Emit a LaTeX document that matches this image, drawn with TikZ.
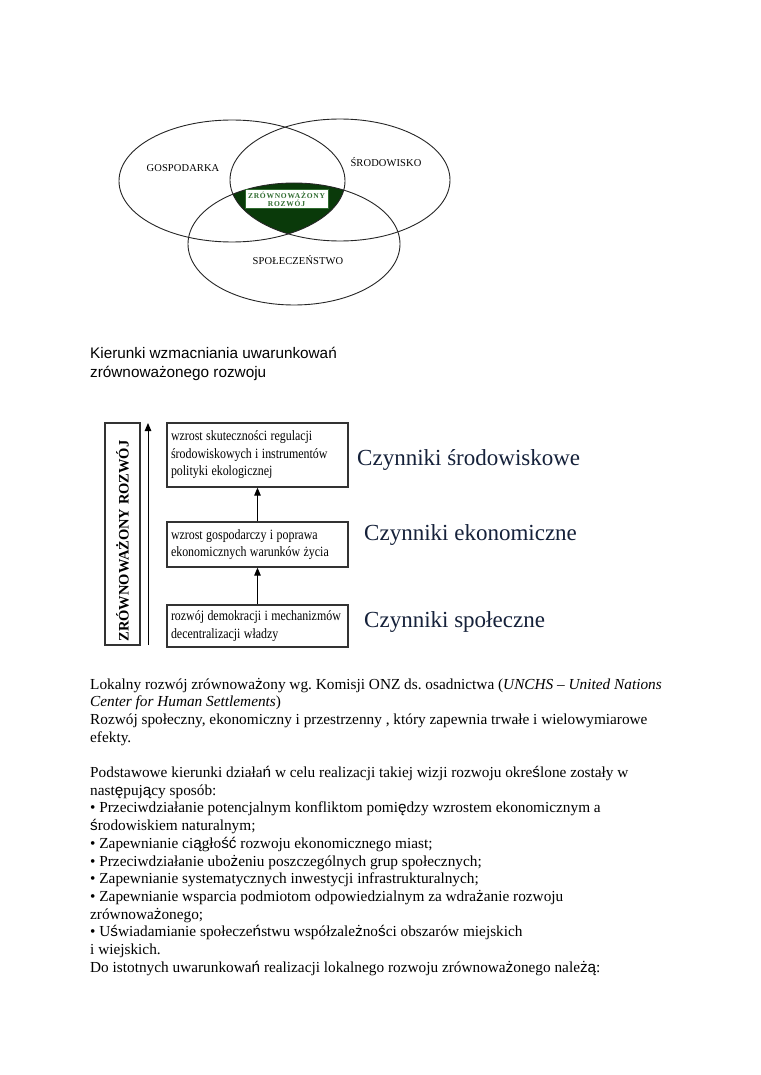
\documentclass[tikz,border=0pt]{standalone}
\usepackage{fontspec}
\setmainfont{Liberation Serif}
\newfontfamily\sansf{Liberation Sans}
\newfontfamily\boxf[FakeStretch=0.84]{Liberation Serif}
\newfontfamily\vennf[LetterSpace=1]{Liberation Serif}
\newfontfamily\zrf[LetterSpace=10]{Liberation Serif}
\protected\def\tightsp{\spaceskip=0.24em plus 0.1em\relax\xspaceskip=0.3em\relax}
\frenchspacing
\usetikzlibrary{arrows.meta}
\definecolor{dkgreen}{HTML}{0A3A0A}
\definecolor{lbgreen}{HTML}{2F6B2F}
\definecolor{navyc}{HTML}{15213A}
\newcommand\ps[1]{{\sansf #1}}
\begin{document}
\begin{tikzpicture}[x=1pt,y=-1pt,
  venn/.style={draw=black!85, line width=0.9pt},
  vlabel/.style={font=\vennf\fontsize{10.5}{11}\selectfont, inner sep=0pt},
  fbox/.style={draw=black!80, line width=1.3pt, minimum width=181pt, text width=173pt, inner xsep=4pt, inner ysep=0pt, align=left, font=\boxf\fontsize{14.2}{17.5}\selectfont, execute at begin node=\tightsp},
  arr/.style={line width=1pt, -{Triangle[length=8pt,width=6.5pt]}},
  czyn/.style={anchor=west, text=navyc, font=\fontsize{23}{23}\selectfont, inner sep=0pt},
  body/.style={anchor=base west, inner sep=0pt, font=\fontsize{15.3}{17.7}\selectfont\frenchspacing},
  ttl/.style={anchor=base west, inner sep=0pt, font=\sansf\fontsize{15.3}{18}\selectfont}]
\useasboundingbox (0,0) rectangle (760,1075);
\fill[white] (0,0) rectangle (760,1075);
% Venn diagram
\begin{scope}
  \clip (232,181) ellipse [x radius=113pt, y radius=61pt];
  \clip (340,180) ellipse [x radius=110pt, y radius=61pt];
  \fill[dkgreen] (294,244) ellipse [x radius=106pt, y radius=61pt];
\end{scope}
\draw[venn] (232,181) ellipse [x radius=113pt, y radius=61pt];
\draw[venn] (340,180) ellipse [x radius=110pt, y radius=61pt];
\draw[venn] (294,244) ellipse [x radius=106pt, y radius=61pt];
\node[vlabel] (gosp) at (183,168) {GOSPODARKA};
\node[vlabel] (srod) at (386,162) {ŚRODOWISKO};
\node[vlabel] (spol) at (298,260) {SPOŁECZEŃSTWO};
\node[draw=lbgreen, line width=1pt, fill=white, text=lbgreen, align=center, minimum width=83pt, minimum height=19pt, inner sep=0.5pt, font=\zrf\bfseries\fontsize{7.5}{8.5}\selectfont] (zr) at (286.5,199.5) {ZRÓWNOWAŻONY\\ROZWÓJ};
% title
\node[ttl] (t1) at (90,358) {Kierunki wzmacniania uwarunkowań};
\node[ttl] (t2) at (90,377) {zrównoważonego rozwoju};
% factors diagram
\node[draw=black!80, line width=1.3pt, minimum width=35pt, minimum height=222pt, inner sep=0pt] (vbox) at (122.5,534) {};
\node[rotate=90, inner sep=0pt, font=\bfseries\fontsize{14.5}{15}\selectfont] (vlab) at (122.5,541) {ZRÓWNOWAŻONY ROZWÓJ};
\coordinate (a0) at (148,645);
\coordinate (a1) at (148,423);
\draw[arr] (a0) -- (a1);
\node[fbox, minimum height=64pt] (box1) at (257.5,455) {wzrost skuteczności regulacji\\środowiskowych i instrumentów\\polityki ekologicznej};
\node[fbox, minimum height=45pt] (box2) at (257.5,544.5) {wzrost gospodarczy i poprawa\\ekonomicznych warunków życia};
\node[fbox, minimum height=42pt] (box3) at (257.5,626) {rozwój demokracji i mechanizmów\\decentralizacji władzy};
\draw[arr] (box2.north) -- (box1.south);
\draw[arr] (box3.north) -- (box2.south);
\node[czyn] (c1) at (357,460) {Czynniki środowiskowe};
\node[czyn] (c2) at (364,535) {Czynniki ekonomiczne};
\node[czyn] (c3) at (364,622) {Czynniki społeczne};
% body text
\node[body] (b1) at (90,689) {Lokalny rozwój zrównowa\ps{ż}ony wg. Komisji ONZ ds. osadnictwa (\textit{UNCHS – United Nations}};
\node[body] (b2) at (90,706.7) {\textit{Center for Human Settlements})};
\node[body] (b3) at (90,724.4) {Rozwój społeczny, ekonomiczny i przestrzenny , który zapewnia trwałe i wielowymiarowe};
\node[body] (b4) at (90,742.1) {efekty.};
\node[body] (b6) at (90,777.5) {Podstawowe kierunki działa\ps{ń} w celu realizacji takiej wizji rozwoju okre\ps{ś}lone zostały w};
\node[body] (b7) at (90,795.2) {nast\ps{ę}puj\ps{ą}cy sposób:};
\node[body] (b8) at (90,812.9) {• Przeciwdziałanie potencjalnym konfliktom pomi\ps{ę}dzy wzrostem ekonomicznym a};
\node[body] (b9) at (90,830.6) {\ps{ś}rodowiskiem naturalnym;};
\node[body] (b10) at (90,848.3) {• Zapewnianie ci\ps{ą}gło\ps{ść} rozwoju ekonomicznego miast;};
\node[body] (b11) at (90,866.0) {• Przeciwdziałanie ubo\ps{ż}eniu poszczególnych grup społecznych;};
\node[body] (b12) at (90,883.7) {• Zapewnianie systematycznych inwestycji infrastrukturalnych;};
\node[body] (b13) at (90,901.4) {• Zapewnianie wsparcia podmiotom odpowiedzialnym za wdra\ps{ż}anie rozwoju};
\node[body] (b14) at (90,919.1) {zrównowa\ps{ż}onego;};
\node[body] (b15) at (90,936.8) {• U\ps{ś}wiadamianie społecze\ps{ń}stwu współzale\ps{ż}no\ps{ś}ci obszarów miejskich};
\node[body] (b16) at (90,954.5) {i wiejskich.};
\node[body] (b17) at (90,972.2) {Do istotnych uwarunkowa\ps{ń} realizacji lokalnego rozwoju zrównowa\ps{ż}onego nale\ps{żą}:};
\end{tikzpicture}
\end{document}
